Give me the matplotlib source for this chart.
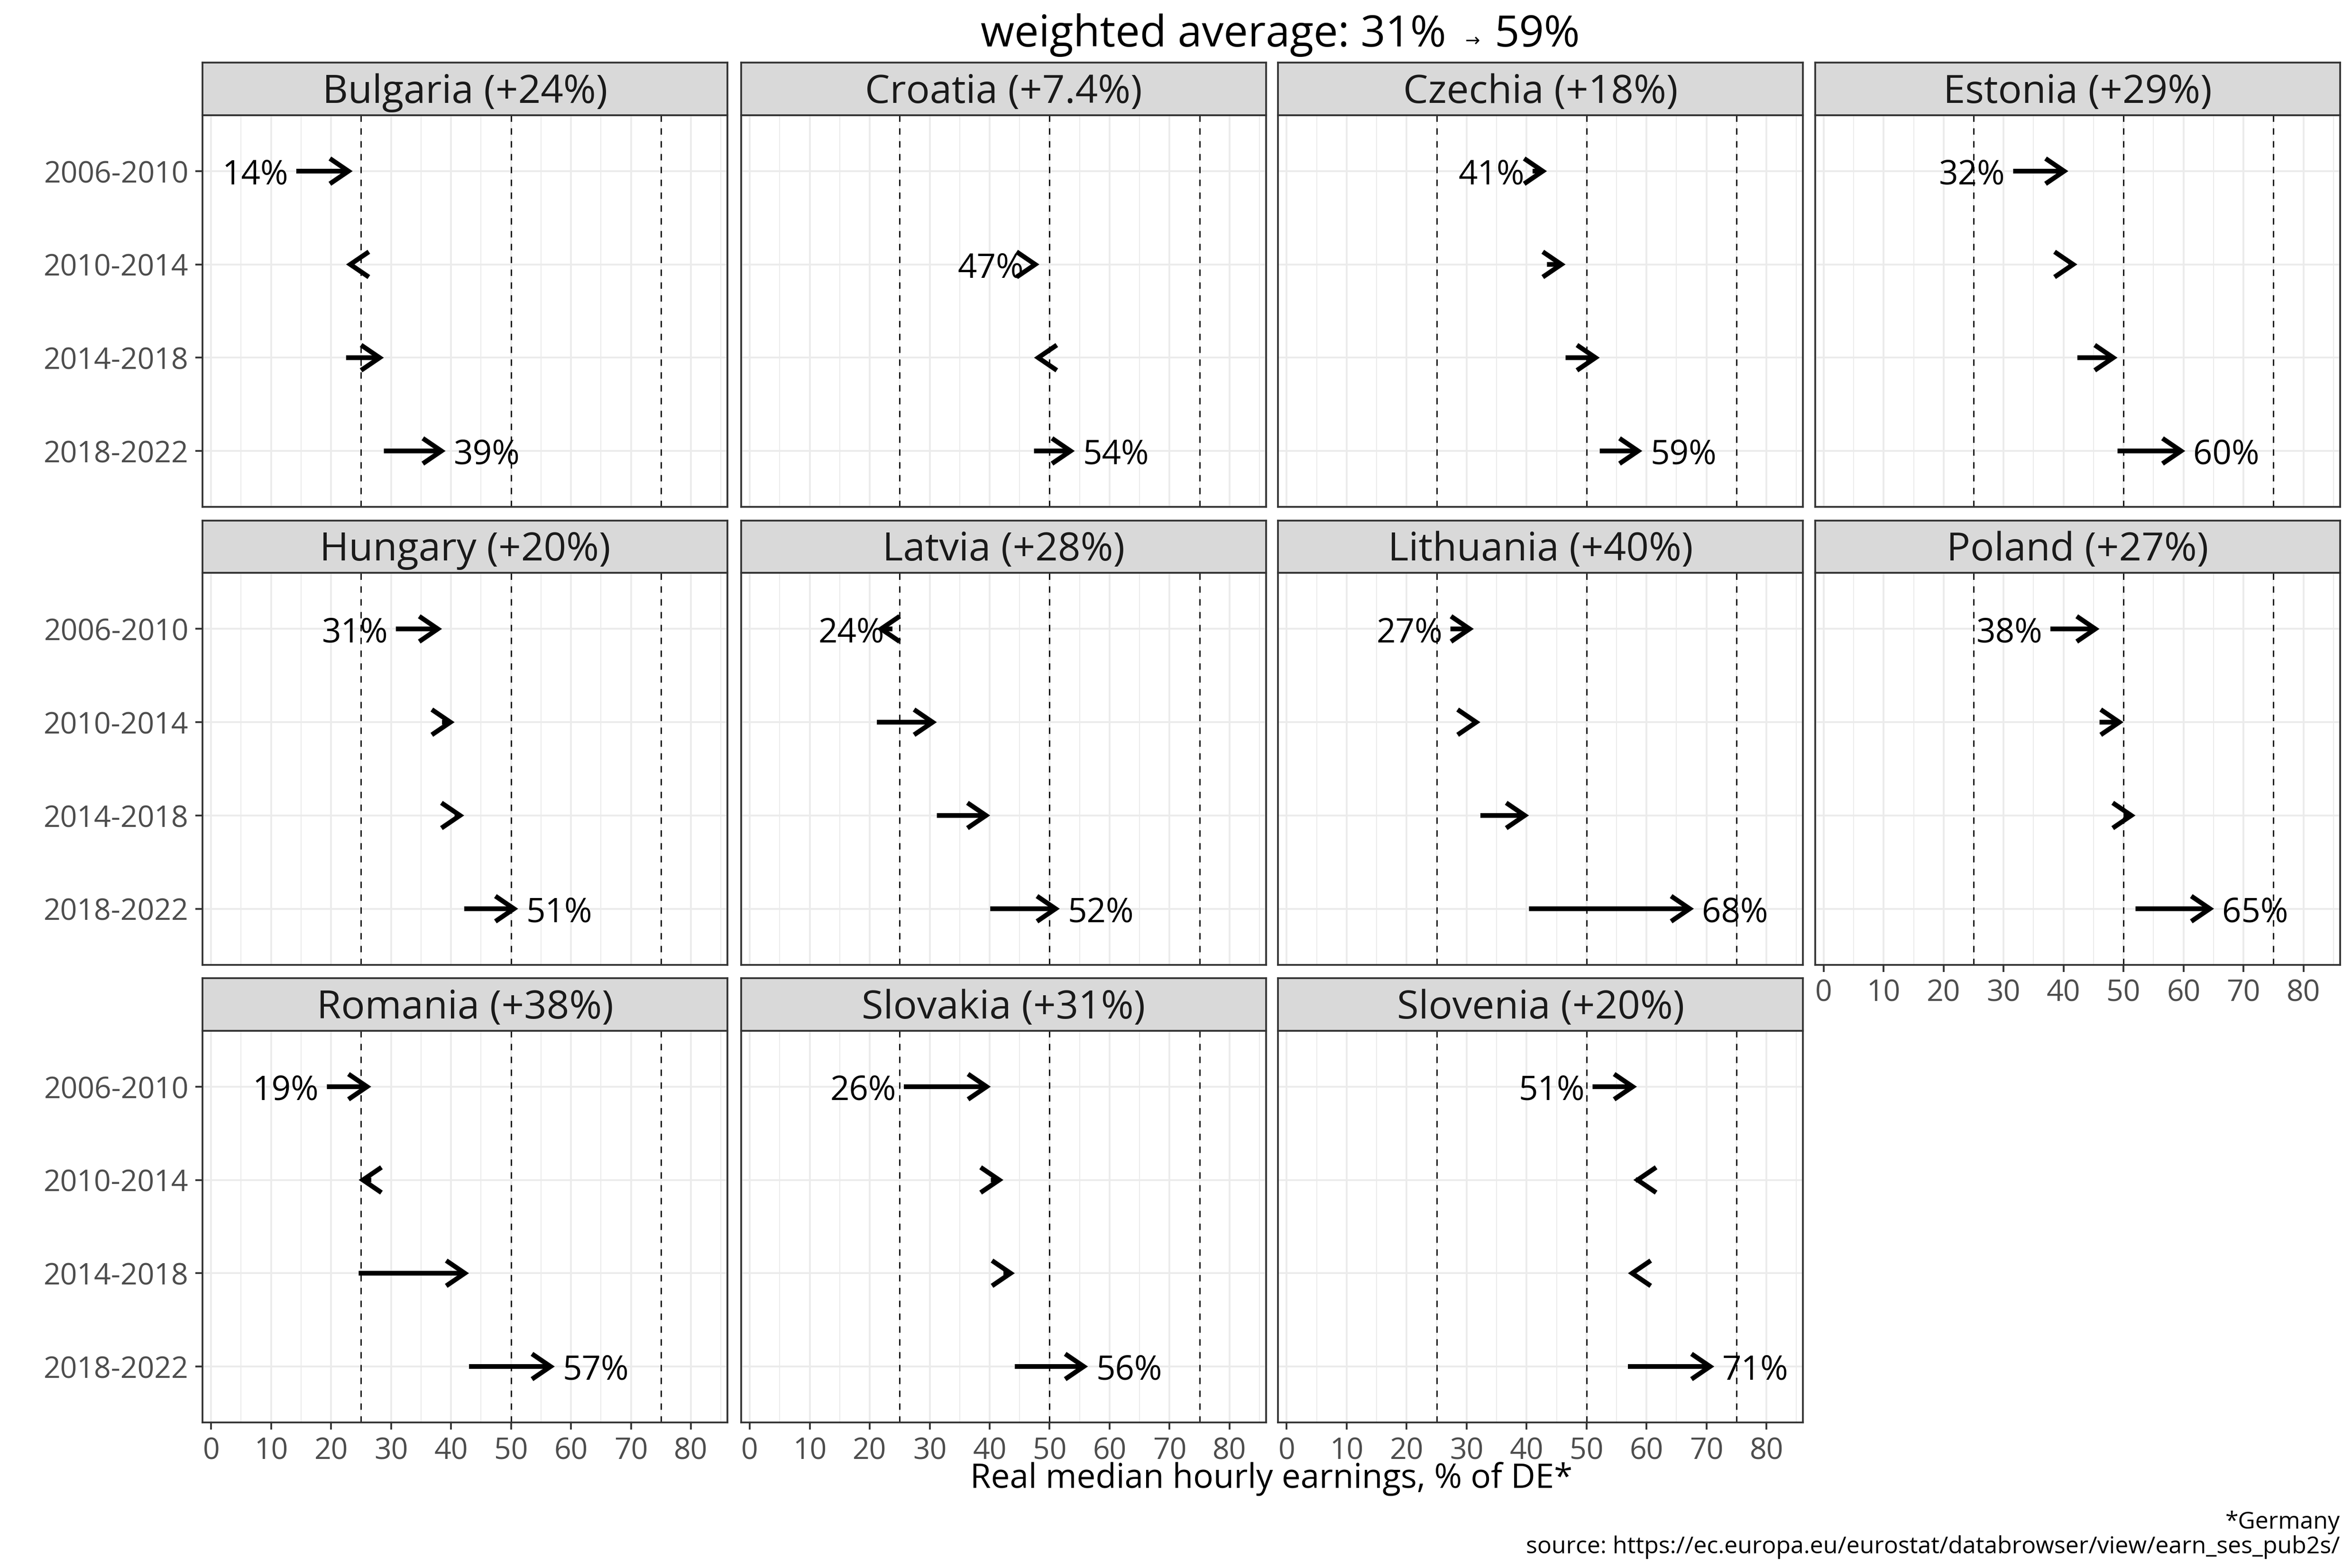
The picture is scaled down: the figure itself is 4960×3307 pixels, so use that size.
import matplotlib.pyplot as plt

plt.rcParams['font.family'] = ['Open Sans', 'DejaVu Sans']

countries = ['Bulgaria', 'Croatia', 'Czechia', 'Estonia', 'Hungary', 'Latvia',
             'Lithuania', 'Poland', 'Romania', 'Slovakia', 'Slovenia']
growth = ['+24%', '+7.4%', '+18%', '+29%', '+20%', '+28%',
          '+40%', '+27%', '+38%', '+31%', '+20%']
periods = ['2006-2010', '2010-2014', '2014-2018', '2018-2022']

# real median hourly earnings, % of Germany, in 2006, 2010, 2014, 2018, 2022
bulgaria = [14.2, 23.6, 22.5, 28.8, 39.1]
croatia = [None, 47.0, 48.3, 47.4, 54.2]
czechia = [41.0, 43.4, 46.5, 52.2, 59.3]
estonia = [31.6, 40.8, 42.3, 49.0, 60.3]
hungary = [30.8, 38.5, 40.6, 42.2, 51.2]
latvia = [23.8, 21.2, 31.2, 40.1, 51.7]
lithuania = [27.3, 31.2, 32.3, 40.4, 67.9]
poland = [37.8, 46.0, 50.0, 52.0, 65.1]
romania = [19.3, 26.7, 24.6, 43.0, 57.3]
slovakia = [25.7, 40.2, 42.3, 44.2, 56.4]
slovenia = [51.0, 58.4, 57.8, 56.9, 71.3]
series = [bulgaria, croatia, czechia, estonia, hungary, latvia,
          lithuania, poland, romania, slovakia, slovenia]

ref_lines = [25, 50, 75]

fig = plt.figure(figsize=(4960 / 300, 3307.5 / 300), dpi=300)

lefts = [0.0861, 0.3151, 0.5434, 0.7717]
bottoms = [0.6766, 0.3847, 0.0928]
w, h, strip_h = 0.2232, 0.2498, 0.0335

for i, (name, g, vals) in enumerate(zip(countries, growth, series)):
    row, col = i // 4, i % 4
    ax = fig.add_axes([lefts[col], bottoms[row], w, h])

    ax.set_xlim(-1.44, 86.1)
    ax.set_ylim(4.6, 0.4)
    ax.set_xticks(range(0, 81, 10))
    ax.set_xticks(range(5, 86, 10), minor=True)
    ax.set_yticks(range(1, 5))
    ax.grid(which='major', color='#EBEBEB', lw=0.9)
    ax.grid(which='minor', axis='x', color='#EBEBEB', lw=0.5)
    ax.set_axisbelow(True)
    for x in ref_lines:
        ax.axvline(x, color='black', lw=0.65, dashes=(5, 5), zorder=1.5)

    # arrows period by period
    pts = [(k, v) for k, v in enumerate(vals) if v is not None]
    for (k0, v0), (k1, v1) in zip(pts[:-1], pts[1:]):
        y = k0 + 1
        ax.annotate('', xy=(v1, y), xytext=(v0, y),
                    arrowprops=dict(arrowstyle='->,head_length=0.47,head_width=0.32',
                                    lw=2.4, color='black', mutation_scale=20,
                                    shrinkA=0, shrinkB=0, joinstyle='miter',
                                    capstyle='butt'), zorder=3)
    k_first, v_first = pts[0]
    v_last = pts[-1][1]
    ax.annotate(f'{round(v_first)}%', (v_first, k_first + 1), xytext=(-4, 0),
                textcoords='offset points', ha='right', va='center_baseline',
                fontsize=17, color='black')
    ax.annotate(f'{round(v_last)}%', (v_last, len(periods)), xytext=(4, 0),
                textcoords='offset points', ha='left', va='center_baseline',
                fontsize=17, color='black')

    for s in ax.spines.values():
        s.set_color('#333333')
        s.set_linewidth(0.9)
    ax.tick_params(which='both', colors='#333333', width=0.9, length=3.5,
                   labelsize=15, labelcolor='#4D4D4D')
    ax.tick_params(which='minor', length=0)
    if col == 0:
        ax.set_yticklabels(periods)
    else:
        ax.tick_params(axis='y', length=0, labelleft=False)
    if i + 4 >= len(countries):
        ax.set_xticklabels([str(t) for t in range(0, 81, 10)])
    else:
        ax.tick_params(axis='x', length=0, labelbottom=False)

    # facet strip
    sax = fig.add_axes([lefts[col], bottoms[row] + h, w, strip_h])
    sax.set_facecolor('#D9D9D9')
    sax.set_xticks([])
    sax.set_yticks([])
    for s in sax.spines.values():
        s.set_color('#333333')
        s.set_linewidth(0.9)
    sax.text(0.5, 0.43, f'{name} ({g})', ha='center', va='center',
             fontsize=20, color='#1A1A1A', transform=sax.transAxes)

# title with a small arrow between the two averages
fig.text(0.6148, 0.9705, 'weighted average: 31%', ha='right', va='baseline',
         fontsize=22, color='black')
fig.text(0.6262, 0.9705, '\u2192', ha='center', va='baseline',
         fontsize=9, color='black', family='DejaVu Sans')
fig.text(0.6352, 0.9705, '59%', ha='left', va='baseline',
         fontsize=22, color='black')

fig.text(0.5405, 0.057, 'Real median hourly earnings, % of DE*', ha='center',
         va='center', fontsize=17, color='black')
fig.text(0.9949, 0.006,
         '*Germany\nsource: https://ec.europa.eu/eurostat/databrowser/view/earn_ses_pub2s/',
         ha='right', va='bottom', multialignment='right', fontsize=12,
         color='black', linespacing=1.05)

fig.savefig('out.png', dpi=300)
